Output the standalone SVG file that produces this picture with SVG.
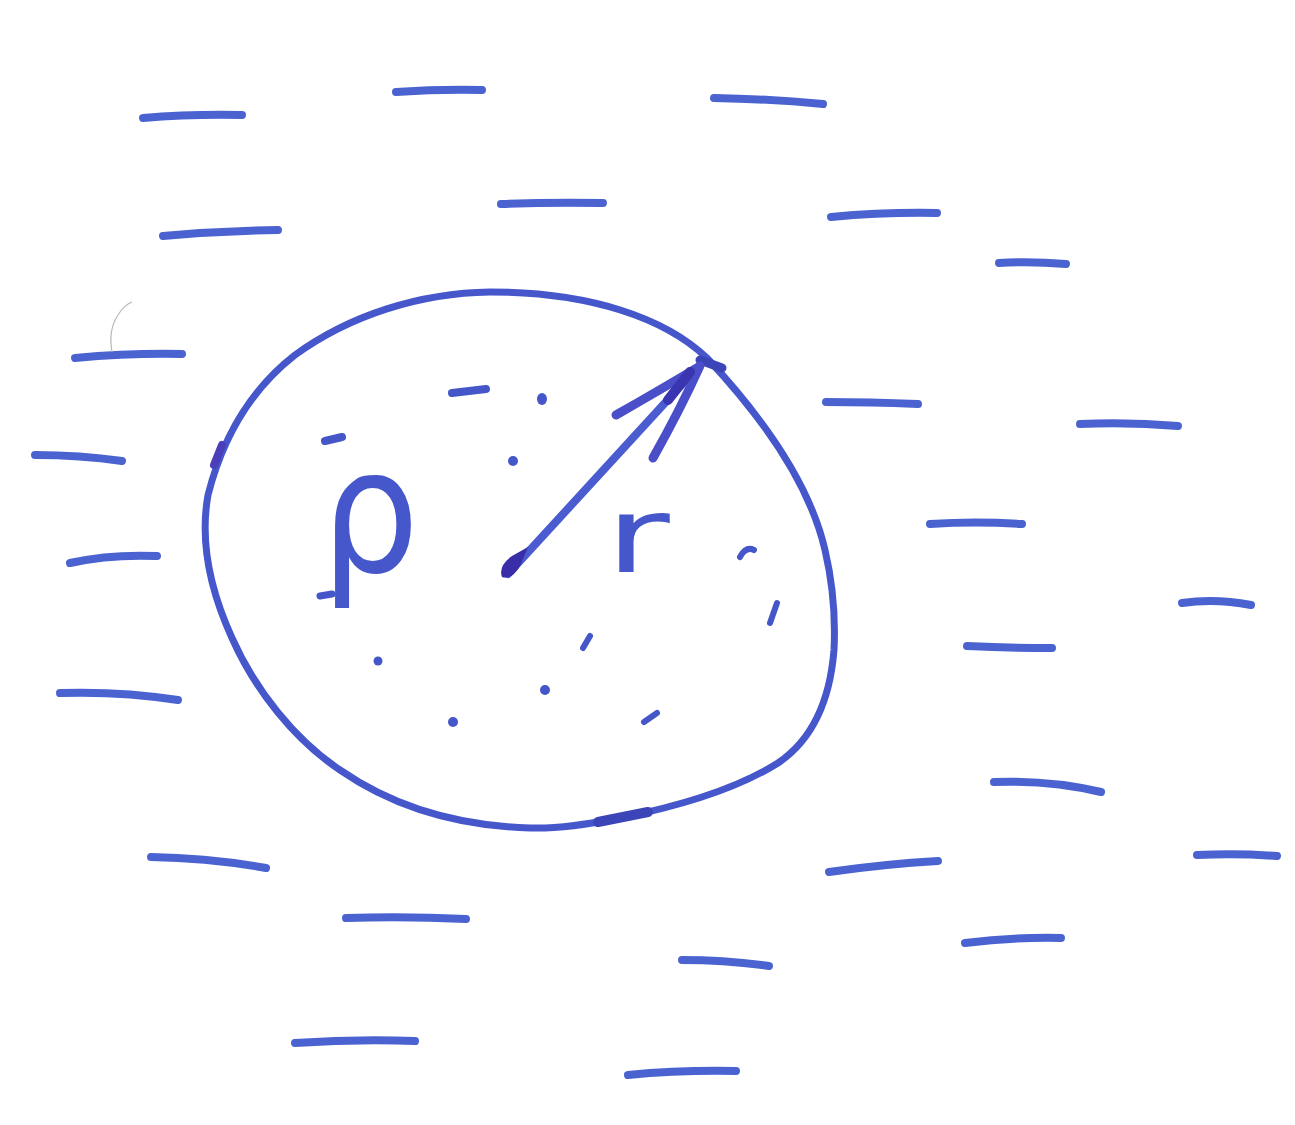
<svg xmlns="http://www.w3.org/2000/svg" width="1295" height="1125" viewBox="0 0 1295 1125">
<style>
.d{fill:none;stroke:#4a63d0;stroke-width:8;stroke-linecap:round}
.c{fill:none;stroke:#4657cc;stroke-width:7;stroke-linecap:round;stroke-linejoin:round}
.p{fill:#4556c8;stroke:none}
.s{fill:none;stroke:#4556c8;stroke-linecap:round}
.t{font-family:"DejaVu Sans",sans-serif;fill:#4657cc}
</style>
<rect width="1295" height="1125" fill="#ffffff"/>
<g id="dashes" class="d">
<path d="M143,118 Q190,114 242,115"/>
<path d="M396,92 Q440,89 482,90"/>
<path d="M714,98 Q770,99 823,104"/>
<path d="M501,204 Q550,202 603,203"/>
<path d="M163,236 Q220,231 278,230"/>
<path d="M831,217 Q885,212 937,213"/>
<path d="M999,263 Q1030,261 1066,264"/>
<path d="M75,358 Q130,353 182,354"/>
<path d="M826,402 Q870,402 918,404"/>
<path d="M1080,424 Q1130,422 1178,426"/>
<path d="M35,455 Q80,455 122,461"/>
<path d="M930,524 Q975,521 1022,524"/>
<path d="M70,563 Q110,554 157,556"/>
<path d="M1182,603 Q1215,598 1251,605"/>
<path d="M967,646 Q1010,648 1052,648"/>
<path d="M60,693 Q120,691 178,700"/>
<path d="M994,782 Q1050,780 1101,792"/>
<path d="M151,857 Q210,858 266,868"/>
<path d="M829,872 Q885,864 938,861"/>
<path d="M1197,855 Q1237,853 1277,856"/>
<path d="M346,918 Q405,916 466,919"/>
<path d="M965,943 Q1012,937 1061,938"/>
<path d="M682,960 Q725,960 769,966"/>
<path d="M295,1043 Q355,1039 415,1041"/>
<path d="M628,1075 Q680,1070 736,1071"/>
</g>
<path d="M112,352 Q108,330 118,315 Q124,305 132,302" fill="none" stroke="#b8b8b8" stroke-width="1.2"/>
<g id="circle">
<path class="c" d="M707,358 C665,318 590,292 490,292 C420,293 350,315 295,355 C250,390 222,440 208,495 C200,540 210,590 232,638 C255,690 295,740 340,770 C395,808 460,826 530,828 C560,829 590,824 620,818 C680,806 735,790 778,763 C812,740 830,700 834,650 C836,610 832,580 825,550 C810,485 765,420 707,358 Z"/>
<path d="M598,822 L648,812" stroke="#3b45b8" stroke-width="10" stroke-linecap="round"/>
<path d="M700,360 L722,368" stroke="#3b45b8" stroke-width="9" stroke-linecap="round"/>
<path d="M214,465 L222,445" stroke="#4a3fb8" stroke-width="8" stroke-linecap="round"/>
</g>
<g id="particles">
<path class="s" d="M452,393 L486,389" stroke-width="8"/>
<ellipse class="p" cx="542" cy="399" rx="5" ry="6"/>
<circle class="p" cx="513" cy="461" r="5"/>
<path class="s" d="M325,441 L342,437" stroke-width="8"/>
<path class="s" d="M320,596 L332,594" stroke-width="7"/>
<circle class="p" cx="378" cy="661" r="4.5"/>
<path class="s" d="M583,648 L590,636" stroke-width="6"/>
<circle class="p" cx="545" cy="690" r="5"/>
<circle class="p" cx="453" cy="722" r="5"/>
<path class="s" d="M644,722 L657,713" stroke-width="6"/>
<path class="s" d="M740,557 Q746,546 754,550" stroke-width="6"/>
<path class="s" d="M770,623 L777,603" stroke-width="6"/>
</g>
<g id="radius">
<path d="M508,574 L697,368" stroke="#4a5cd0" stroke-width="8" stroke-linecap="round" fill="none"/>
<path d="M502,577 Q498,566 512,556 L528,547 L520,566 Q512,580 502,577 Z" fill="#3a2ea8"/>
<path d="M616,415 Q660,390 700,366 Q680,410 653,458" fill="none" stroke="#4a4ec8" stroke-width="9" stroke-linecap="round" stroke-linejoin="round"/>
<path d="M690,372 L668,400" stroke="#3a35b0" stroke-width="10" stroke-linecap="round"/>
</g>
<g id="labels">
<text class="t" transform="translate(321,572) scale(1,1.12)" font-size="155">ρ</text>
<text class="t" transform="translate(605,572) scale(1.5,1)" font-size="105">r</text>
</g>
</svg>
